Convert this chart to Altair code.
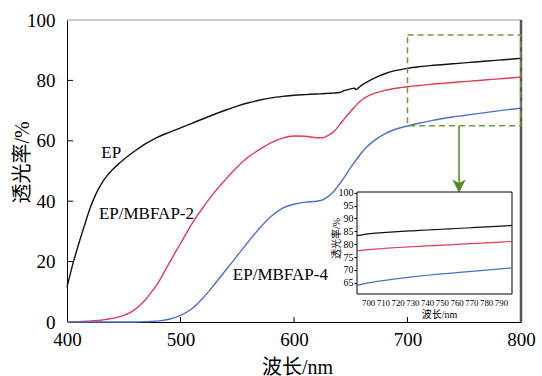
import altair as alt
import pandas as pd

# ---- measured transmittance spectra (%), wavelength in nm ----
wavelength = [400, 405, 410, 415, 420, 425, 430, 435, 440, 445, 450, 455, 460, 465,
              470, 475, 480, 490, 500, 510, 520, 530, 540, 550, 560, 570, 580, 590,
              600, 610, 620, 625, 630, 635, 640, 645, 650, 653, 655, 657, 660, 665,
              670, 680, 690, 700, 710, 720, 730, 740, 750, 760, 770, 780, 790, 800]

ep = [11.5, 19.0, 25.5, 31.5, 37.3, 42.0, 45.6, 48.3, 50.4, 52.2, 53.8, 55.3, 56.7, 58.0,
      59.2, 60.2, 61.2, 62.8, 64.3, 65.8, 67.3, 68.8, 70.2, 71.5, 72.6, 73.5, 74.2, 74.7,
      75.1, 75.3, 75.5, 75.6, 75.7, 75.8, 76.0, 76.7, 77.2, 77.4, 77.0, 77.6, 78.5, 79.6,
      80.6, 82.2, 83.3, 84.0, 84.5, 84.9, 85.2, 85.5, 85.8, 86.1, 86.4, 86.7, 87.0, 87.3]

mbfap2 = [0.0, 0.05, 0.1, 0.2, 0.3, 0.45, 0.6, 0.9, 1.2, 1.6, 2.2, 3.0, 4.2, 5.8,
          7.8, 10.2, 12.8, 19.5, 26.0, 32.5, 38.0, 43.0, 47.3, 51.3, 54.7, 57.2, 59.4, 60.9,
          61.6, 61.5, 61.0, 61.0, 61.8, 63.0, 65.2, 67.6, 69.8, 71.0, 71.9, 72.6, 73.6, 74.8,
          75.6, 76.7, 77.4, 77.9, 78.3, 78.7, 79.0, 79.3, 79.6, 79.9, 80.2, 80.5, 80.8, 81.1]

mbfap4 = [0.0, 0.0, 0.0, 0.0, 0.0, 0.0, 0.0, 0.0, 0.0, 0.0, 0.0, 0.0, 0.0, 0.05,
          0.1, 0.2, 0.3, 0.9, 2.2, 4.4, 8.0, 12.5, 17.2, 22.0, 26.7, 31.2, 35.0, 37.7,
          39.0, 39.7, 40.0, 40.4, 41.5, 43.2, 45.6, 48.3, 51.2, 52.8, 53.8, 54.8, 56.3, 58.3,
          59.9, 62.3, 63.9, 64.9, 65.8, 66.6, 67.3, 67.9, 68.4, 68.9, 69.4, 69.9, 70.4, 70.8]

series_names = ["EP", "EP/MBFAP-2", "EP/MBFAP-4"]
series_colors = ["#111111", "#e23c50", "#4a70c8"]

# curve labels placed next to each spectrum
label_text = ["EP", "EP/MBFAP-2", "EP/MBFAP-4"]
label_x = [439, 470, 588]
label_y = [56, 35.6, 15.7]

# axis ticks
x_ticks = [400, 500, 600, 700, 800]
y_ticks = [0, 20, 40, 60, 80, 100]
x_inner_ticks = [500, 600, 700]
y_inner_ticks = [20, 40, 60, 80]

# magnified region and inset
zoom_x = [700, 800]
zoom_y = [65, 95]
arrow_x = 745.4
arrow_y = [65, 45]
inset_x_domain = [692.5, 797.5]
inset_y_domain = [60.6, 100.3]
inset_x_ticks = [700, 710, 720, 730, 740, 750, 760, 770, 780, 790]
inset_y_ticks = [65, 70, 75, 80, 85, 90, 95, 100]

# ---- tables ----
rows = []
for name, vals in zip(series_names, [ep, mbfap2, mbfap4]):
    for w, v in zip(wavelength, vals):
        rows.append({"wavelength": w, "transmittance": v, "sample": name})
spectra = pd.DataFrame(rows)

labels = pd.DataFrame({"text": label_text, "wavelength": label_x, "transmittance": label_y})
xt = pd.DataFrame({"wavelength": x_inner_ticks})
yt = pd.DataFrame({"transmittance": y_inner_ticks})
zoom_box = pd.DataFrame({"x0": [zoom_x[0]], "x1": [zoom_x[1]], "y0": [zoom_y[0]], "y1": [zoom_y[1]]})
arrow = pd.DataFrame({"wavelength": [arrow_x], "y0": [arrow_y[0]], "y1": [arrow_y[1]]})
inset_frame = pd.DataFrame({"x0": [inset_x_domain[0]], "x1": [inset_x_domain[1]],
                            "y0": [inset_y_domain[0]], "y1": [inset_y_domain[1]]})

W, H = 454, 302
SERIF = "Liberation Serif, Noto Sans CJK SC"

color = alt.Color("sample:N", scale=alt.Scale(domain=series_names, range=series_colors), legend=None)

# ---- main panel ----
xs = alt.Scale(domain=[400, 800], nice=False)
ys = alt.Scale(domain=[0, 100], nice=False)
x_axis = alt.Axis(title="波长/nm", values=x_ticks, tickSize=0, labelPadding=8, labelFont=SERIF,
                  labelFontSize=19, labelColor="black", labelFlush=False, domainColor="black",
                  grid=False, titleFont=SERIF, titleFontSize=20, titleFontWeight="normal",
                  titleColor="black", titleX=230, titleY=51, titleBaseline="alphabetic")
y_axis = alt.Axis(title="透光率/%", values=y_ticks, tickSize=0, labelPadding=12, labelFont=SERIF,
                  labelFontSize=19, labelColor="black", domainColor="black", grid=False,
                  titleFont=SERIF, titleFontSize=20, titleFontWeight="normal", titleColor="black",
                  titleAngle=270, titleX=-45, titleY=142, titleBaseline="middle", titleAlign="center")

def mx(field):
    return alt.X(field, scale=xs, axis=x_axis)

def my(field):
    return alt.Y(field, scale=ys, axis=y_axis)

lines = alt.Chart(spectra).mark_line(strokeWidth=1.4, interpolate="monotone").encode(
    x=mx("wavelength:Q"), y=my("transmittance:Q"), color=color, detail="sample:N")

curve_labels = alt.Chart(labels).mark_text(font=SERIF, fontSize=17, color="black",
                                           align="center", baseline="middle").encode(
    x=mx("wavelength:Q"), y=my("transmittance:Q"), text="text:N")

x_tick_marks = alt.Chart(xt).mark_rule(color="black", strokeWidth=1).encode(
    x=mx("wavelength:Q"), y=alt.value(H), y2=alt.value(H - 5))
y_tick_marks = alt.Chart(yt).mark_rule(color="black", strokeWidth=1).encode(
    y=my("transmittance:Q"), x=alt.value(0), x2=alt.value(6))

top_border = alt.Chart(inset_frame).mark_rule(color="#9a9a9a", strokeWidth=1).encode(
    x=mx("a:Q"), x2=alt.X2("b:Q"), y=my("c:Q")).transform_calculate(a="400", b="800", c="100")
right_border = alt.Chart(inset_frame).mark_rule(color="#555555", strokeWidth=2.5).encode(
    x=mx("a:Q"), y=my("c:Q"), y2=alt.Y2("d:Q")).transform_calculate(a="800", c="0", d="100")

dashed_box = alt.Chart(zoom_box).mark_rect(fill=None, stroke="#6b9a3c", strokeWidth=1.5,
                                           strokeDash=[6, 4]).encode(
    x=mx("x0:Q"), x2="x1:Q", y=my("y0:Q"), y2="y1:Q")

arrow_shaft = alt.Chart(arrow).mark_rule(color="#4e8a20", strokeWidth=1.5).encode(
    x=mx("wavelength:Q"), y=my("y0:Q"), y2="y1:Q")
arrow_head = alt.Chart(arrow).mark_point(shape="M0,1 L-1,-1 L0,-0.45 L1,-1 Z", filled=True,
                                         fill="#4e8a20", stroke="#4e8a20", strokeWidth=0.5,
                                         size=150, opacity=1).encode(
    x=mx("wavelength:Q"), y=my("y1:Q"))

main = alt.layer(lines, curve_labels, x_tick_marks, y_tick_marks, top_border, right_border,
                 dashed_box, arrow_shaft, arrow_head)

# ---- inset panel (own scales, mapped onto a sub-rectangle of the plot) ----
ixs = alt.Scale(domain=inset_x_domain, range=[290, 445], clamp=True, nice=False, zero=False)
iys = alt.Scale(domain=inset_y_domain, range=[274, 172], clamp=True, nice=False, zero=False)
ix_axis = alt.Axis(orient="bottom", offset=-28, title="波长/nm", values=inset_x_ticks, tickSize=0,
                   labelPadding=4, labelFont=SERIF, labelFontSize=8.8, labelColor="black",
                   labelOverlap=False, labelFlush=False, domain=False, grid=False,
                   titleFont=SERIF, titleFontSize=10, titleFontWeight="normal", titleColor="black",
                   titleX=372, titleY=20, titleBaseline="middle", titleAlign="center")
iy_axis = alt.Axis(orient="left", offset=-290, title="透光率/%", values=inset_y_ticks, tickSize=3,
                   tickColor="black", labelPadding=1, labelFont=SERIF, labelFontSize=10,
                   labelColor="black", labelOverlap=False, labelFlush=False, domain=False,
                   grid=False, titleFont=SERIF, titleFontSize=10, titleFontWeight="normal",
                   titleColor="black", titleAngle=270, titleX=-21, titleY=218,
                   titleBaseline="middle", titleAlign="center")

def ix(field):
    return alt.X(field, scale=ixs, axis=ix_axis)

def iy(field):
    return alt.Y(field, scale=iys, axis=iy_axis)

inset_box = alt.Chart(inset_frame).mark_rect(fill="white", stroke="black", strokeWidth=1).encode(
    x=ix("x0:Q"), x2="x1:Q", y=iy("y0:Q"), y2="y1:Q")

inset_lines = alt.Chart(spectra).mark_line(strokeWidth=1.2, interpolate="monotone").encode(
    x=ix("wavelength:Q"), y=iy("transmittance:Q"), color=color, detail="sample:N"
).transform_filter("datum.wavelength >= 690 && datum.wavelength <= 800")

inset = alt.layer(inset_box, inset_lines)

chart = alt.layer(main, inset).resolve_scale(x="independent", y="independent").properties(
    width=W, height=H,
    autosize=alt.AutoSizeParams(type="none"),
    padding={"left": 67, "top": 20, "right": 21, "bottom": 54},
    background="white",
).configure_view(stroke=None)

chart.save("out.html", embed_options={"renderer": "svg", "actions": False})
